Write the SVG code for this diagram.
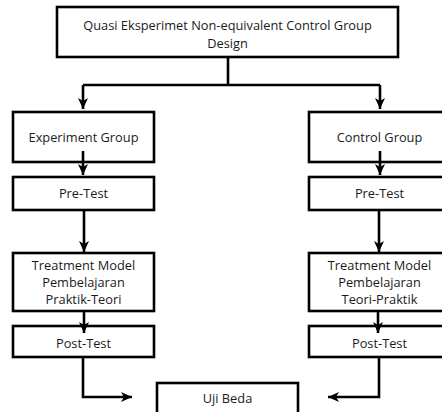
<svg xmlns="http://www.w3.org/2000/svg" width="442" height="412" viewBox="0 0 442 412">
<defs>
<style>
.box{fill:#fff;stroke:#000;stroke-width:2.6}
.t{font-family:"Open Sans","Noto Sans",sans-serif;font-size:12.8px;fill:#1a1a1a;text-anchor:middle}
.c{fill:none;stroke:#000;stroke-width:2.6}
</style>
<marker id="ah" markerUnits="userSpaceOnUse" markerWidth="12" markerHeight="12" viewBox="0 0 12 12" refX="11" refY="6" orient="auto">
<path d="M0,1 L11,6 L0,11 L3,6 Z" fill="#000"/>
</marker>
</defs>
<rect width="442" height="412" fill="#fff"/>
<g id="top"><rect class="box" x="57" y="7" width="341" height="50"/>
<text class="t" x="227.5" y="29.5">Quasi Eksperimet Non-equivalent Control Group</text>
<text class="t" x="227.5" y="47.5">Design</text></g>
<g id="exp"><rect class="box" x="13" y="112" width="141" height="50"/><text class="t" x="83.5" y="141.5">Experiment Group</text></g>
<g id="pre1"><rect class="box" x="13" y="177" width="141" height="33"/><text class="t" x="83.5" y="197.5">Pre-Test</text></g>
<g id="treat1"><rect class="box" x="13" y="253" width="141" height="58"/>
<text class="t" x="83.5" y="270">Treatment Model</text>
<text class="t" x="83.5" y="287">Pembelajaran</text>
<text class="t" x="83.5" y="304">Praktik-Teori</text></g>
<g id="post1"><rect class="box" x="13" y="326" width="141" height="31"/><text class="t" x="83.5" y="347.5">Post-Test</text></g>
<g id="ctrl"><rect class="box" x="309" y="112" width="141" height="50"/><text class="t" x="379.5" y="141.5">Control Group</text></g>
<g id="pre2"><rect class="box" x="309" y="177" width="141" height="33"/><text class="t" x="379.5" y="197.5">Pre-Test</text></g>
<g id="treat2"><rect class="box" x="309" y="253" width="141" height="58"/>
<text class="t" x="379.5" y="270">Treatment Model</text>
<text class="t" x="379.5" y="287">Pembelajaran</text>
<text class="t" x="379.5" y="304">Teori-Praktik</text></g>
<g id="post2"><rect class="box" x="309" y="326" width="141" height="31"/><text class="t" x="379.5" y="347.5">Post-Test</text></g>
<g id="uji"><rect class="box" x="157" y="383" width="141" height="40"/><text class="t" x="227.5" y="402.5">Uji Beda</text></g>
<g id="connectors">
<path class="c" d="M228,57 V85"/>
<path class="c" d="M83,85 H380"/>
<path class="c" d="M83,85 V109" marker-end="url(#ah)"/>
<path class="c" d="M380,85 V109" marker-end="url(#ah)"/>
<path class="c" d="M83,151 V175" marker-end="url(#ah)"/>
<path class="c" d="M380,151 V175" marker-end="url(#ah)"/>
<path class="c" d="M84,210 V252" marker-end="url(#ah)"/>
<path class="c" d="M379,210 V252" marker-end="url(#ah)"/>
<path class="c" d="M84,311 V333" marker-end="url(#ah)"/>
<path class="c" d="M378,311 V333" marker-end="url(#ah)"/>
<path class="c" d="M83,357 V397 H132" marker-end="url(#ah)"/>
<path class="c" d="M379,357 V397 H328" marker-end="url(#ah)"/>
</g>
</svg>
